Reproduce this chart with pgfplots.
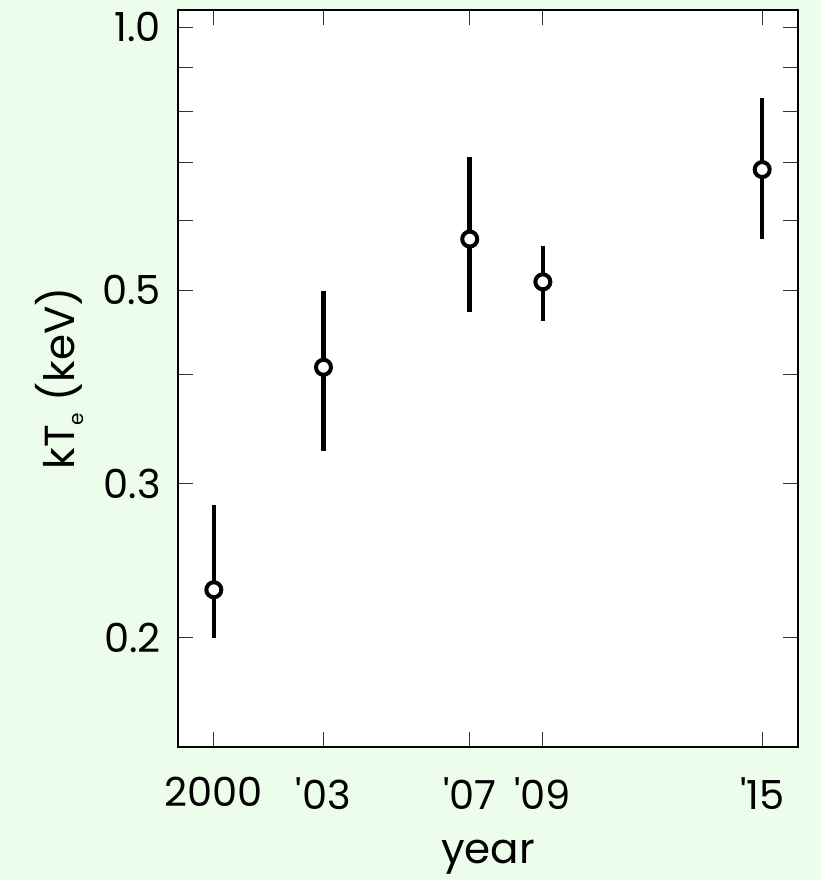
\documentclass[border=0pt]{standalone}
\usepackage{pgfplots}
\pgfplotsset{compat=1.18}
\usepackage{fontspec}
\setmainfont{Poppins}
\definecolor{bg}{HTML}{EDFDEB}
\begin{document}
\begin{tikzpicture}[x=1bp,y=1bp]
\fill[bg] (0,0) rectangle (821,880);
\useasboundingbox (0,0) rectangle (821,880);
\begin{axis}[
  at={(178bp,133bp)}, anchor=south west,
  scale only axis, width=620bp, height=737bp,
  ymode=log, xmin=1999.02, xmax=2015.98, ymin=0.15, ymax=1.046,
  axis background/.style={fill=white},
  axis line style={line width=1.3bp, black},
  xtick={2000,2003,2007,2009,2015},
  xticklabels={2000,\textquotesingle03,\textquotesingle07,\textquotesingle09,\textquotesingle15},
  ytick={0.2,0.3,0.5,1.0},
  yticklabels={0.2,0.3,0.5,\raisebox{-7bp}{1.0}},
  minor ytick={0.4,0.6,0.7,0.8,0.9},
  tick align=inside,
  major tick length=15bp, minor tick length=15bp,
  every tick/.style={line width=1bp, black!80},
  tick label style={font=\fontsize{40bp}{44bp}\selectfont, inner sep=0pt},
  yticklabel style={anchor=east, xshift=-17bp},
  xticklabel style={anchor=north, yshift=-30bp},
  label style={font=\fontsize{42bp}{46bp}\selectfont, inner sep=0pt},
  xlabel={year},
  ylabel={kT\raisebox{-0.35ex}{\fontsize{20bp}{20bp}\selectfont e} (keV)},
  xlabel style={at={(axis description cs:0.5,0)}, anchor=base, yshift=-116bp},
  ylabel style={at={(axis description cs:0,0.5)}, anchor=base, yshift=103bp},
]
\addplot[draw=none, mark=none,
  error bars/.cd, y dir=both, y explicit, error mark=none,
  error bar style={line width=4.5bp, black}]
  table[x=x, y=y, y error plus=ep, y error minus=em] {
  x y ep em
  2000 0.227 0.057 0.027
  2003 0.408 0.091 0.081
  2007 0.572 0.139 0.100
  2009 0.511 0.050 0.050
  2015 0.687 0.143 0.115
};
\addplot[only marks, mark=*, mark size=7.5bp, mark options={fill=white, draw=black, line width=4bp}]
  table[x=x, y=y] {
  x y
  2000 0.227
  2003 0.408
  2007 0.572
  2009 0.511
  2015 0.687
};
\end{axis}
\end{tikzpicture}
\end{document}
